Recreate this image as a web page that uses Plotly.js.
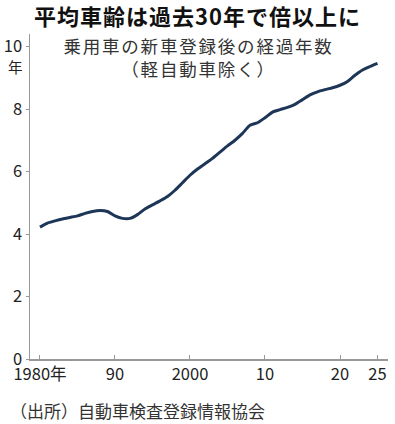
<!DOCTYPE html>
<html>
<head>
<meta charset="utf-8">
<script src="https://cdn.plot.ly/plotly-3.0.1.min.js"></script>
<style>
html,body{margin:0;padding:0;background:#fff;}
#chart{width:395px;height:424px;}
#chart .gtitle{letter-spacing:1px;}
#chart g.annotation[data-index="0"] text{letter-spacing:1.8px;}
</style>
</head>
<body>
<div id="chart"></div>
<script>
const years = [1980,1981,1982,1983,1984,1985,1986,1987,1988,1989,
  1990,1991,1992,1993,1994,1995,1996,1997,1998,1999,
  2000,2001,2002,2003,2004,2005,2006,2007,2008,2009,
  2010,2011,2012,2013,2014,2015,2016,2017,2018,2019,
  2020,2021,2022,2023,2024,2025];
const avgAge = [4.22,4.35,4.42,4.48,4.53,4.58,4.66,4.72,4.75,4.72,
  4.58,4.50,4.50,4.62,4.80,4.93,5.06,5.20,5.40,5.64,
  5.88,6.08,6.25,6.42,6.62,6.82,7.00,7.22,7.48,7.56,
  7.72,7.90,7.98,8.05,8.15,8.30,8.45,8.55,8.62,8.68,
  8.76,8.88,9.08,9.25,9.36,9.46];
const xTickVals = [1980,1990,2000,2010,2020,2025];
const xTickText = ['1980年','90','2000','10','20','25'];
const yTickVals = [0,2,4,6,8,10];

const FONT = '"Noto Sans CJK JP", "Noto Sans", sans-serif';

const trace = {
  x: years, y: avgAge, type: 'scatter', mode: 'lines',
  line: {color: '#1d3658', width: 3, shape: 'spline', smoothing: 0.6},
  hoverinfo: 'skip'
};

const layout = {
  width: 395, height: 424,
  margin: {l: 30, r: 7, t: 34, b: 65},
  paper_bgcolor: '#fff', plot_bgcolor: '#fff',
  showlegend: false,
  font: {family: FONT, color: '#222', size: 16},
  title: {
    text: '<b>平均車齢は過去30年で倍以上に</b>',
    font: {family: FONT, size: 22, color: '#111'},
    x: 0.5, xref: 'container', xanchor: 'center',
    y: 0.96, yref: 'container', yanchor: 'middle'
  },
  xaxis: {
    range: [1978.67, 2026.4],
    tickvals: xTickVals, ticktext: xTickText,
    ticks: 'inside', ticklen: 4, tickcolor: '#999', tickwidth: 1,
    showline: true, linecolor: '#999', linewidth: 1.5,
    showgrid: false, zeroline: false,
    tickfont: {family: FONT, size: 16.5, color: '#222'}
  },
  yaxis: {
    range: [0, 10.4],
    tickvals: yTickVals,
    ticks: 'outside', ticklen: 3, tickcolor: '#999', tickwidth: 1,
    showline: true, linecolor: '#999', linewidth: 1.5,
    showgrid: false, zeroline: false,
    tickfont: {family: FONT, size: 16.5, color: '#222'}
  },
  annotations: [
    {text: '乗用車の新車登録後の経過年数<br>（軽自動車除く）',
     xref: 'paper', yref: 'paper', x: 0.47, y: 1.02, xanchor: 'center', yanchor: 'top',
     yshift: -3, showarrow: false, align: 'center',
     font: {family: FONT, size: 17.5, color: '#333'}},
    {text: '年', xref: 'paper', yref: 'y', x: 0, y: 10, xanchor: 'right', yanchor: 'middle',
     xshift: -5, yshift: -20, showarrow: false,
     font: {family: FONT, size: 14.5, color: '#222'}},
    {text: '（出所）自動車検査登録情報協会', xref: 'paper', yref: 'paper', x: 0, y: 0,
     xanchor: 'left', yanchor: 'middle', xshift: -22, yshift: -51, showarrow: false,
     font: {family: FONT, size: 17, color: '#333'}}
  ]
};

Plotly.newPlot('chart', [trace], layout, {staticPlot: true, displayModeBar: false});
</script>
</body>
</html>
